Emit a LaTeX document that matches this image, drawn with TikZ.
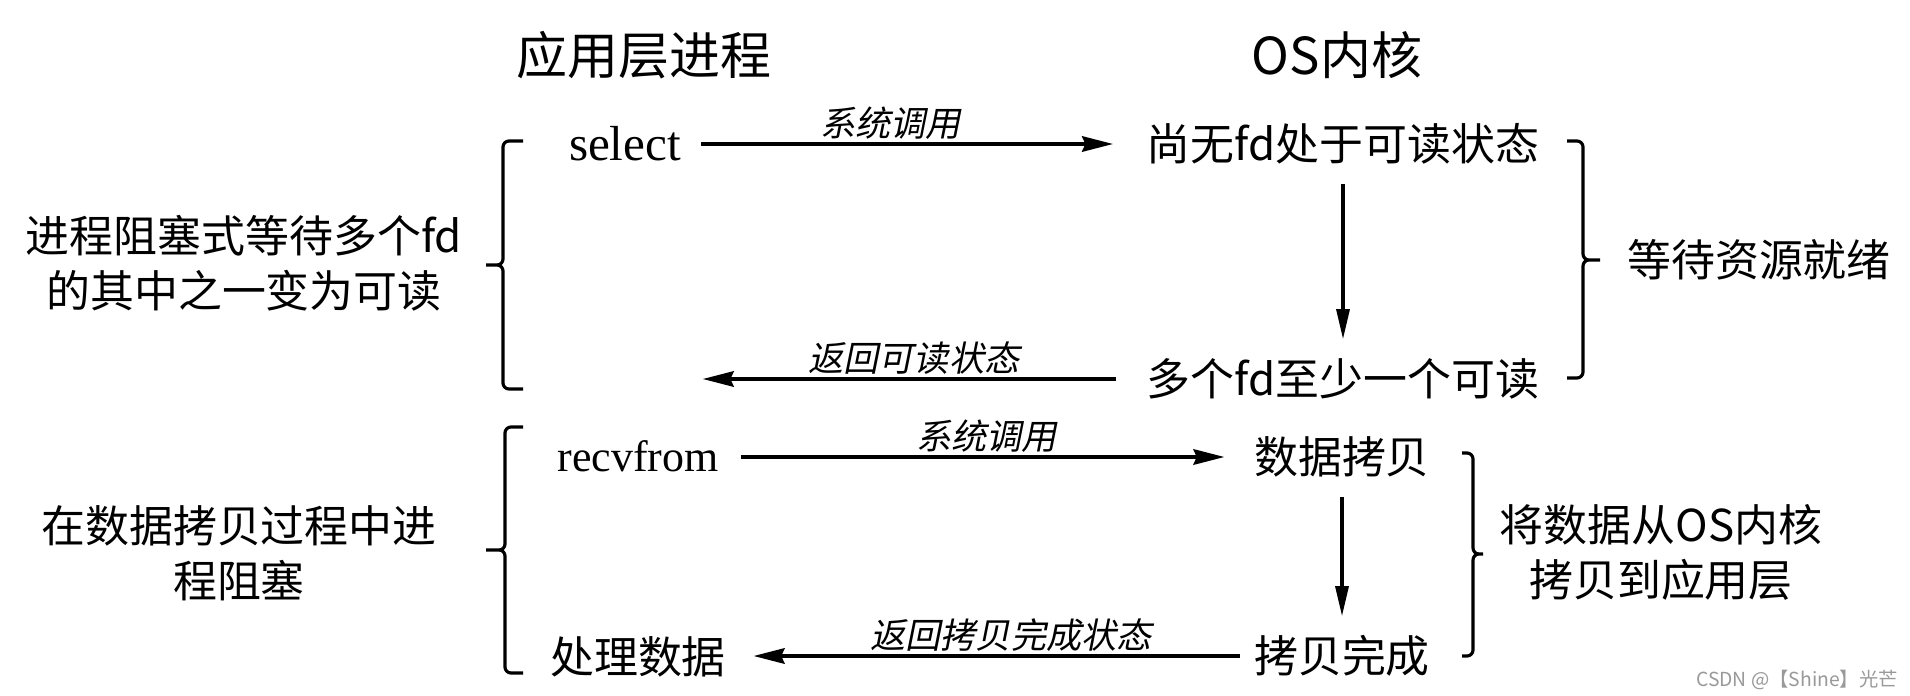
\documentclass[tikz,border=0pt]{standalone}
\usepackage{fontspec}
\setmainfont{Liberation Serif}
\newfontfamily\cjk{Noto Sans CJK SC}
\newfontfamily\cjkit{Noto Sans CJK SC}[FakeSlant=0.2]
\usetikzlibrary{arrows.meta}

\begin{document}
\begin{tikzpicture}[x=0.02cm, y=-0.02cm,
  head/.style={font=\cjk\fontsize{29}{34}\selectfont, inner sep=0pt},
  txt/.style={font=\cjk\fontsize{25}{30}\selectfont, inner sep=0pt, text height=22pt, text depth=3pt},
  side/.style={font=\cjk\fontsize{25}{31.3}\selectfont, inner sep=0pt, align=center},
  api/.style={font=\fontsize{28}{32}\selectfont, inner sep=0pt, text height=19pt, text depth=0pt},
  lbl/.style={font=\cjkit\fontsize{20}{24}\selectfont, inner sep=0pt, yshift=0.42cm},
  call/.style={line width=2.8pt, -{Stealth[length=0.62cm,width=0.3cm,inset=0.06cm]}},
  down/.style={line width=1.8pt, -{Triangle[length=0.6cm,width=0.26cm]}, shorten <=0.35cm, shorten >=0.35cm},
  brk/.style={line width=1.8pt, rounded corners=0.12cm},
  wmark/.style={font=\cjk\fontsize{11}{13}\selectfont, text=black!40, inner sep=0pt}]
  \path[use as bounding box, fill=white] (0,0) rectangle (1910,696);

  % column heads
  \node[head] (app) at (644,55) {应用层进程};
  \node[head] (os) at (1337,55) {OS内核};

  % select
  \node[api] (sel) at (625,144) {select};
  \node[txt] (nofd) at (1343,144) {尚无fd处于可读状态};
  \node[txt] (ready) at (1343,379) {多个fd至少一个可读};
  \node[side] (wait) at (244,263) {进程阻塞式等待多个fd\\的其中之一变为可读};
  \node[txt] (res) at (1759,260) {等待资源就绪};

  % recvfrom
  \node[api, font=\fontsize{25}{30}\selectfont, text height=17pt] (recv) at (638,457) {recvfrom};
  \node[txt] (copy) at (1342,457) {数据拷贝};
  \node[txt] (done) at (1342,656) {拷贝完成};
  \node[txt] (proc) at (638,657) {处理数据};
  \node[side] (block) at (239,553) {在数据拷贝过程中进\\程阻塞};
  \node[side] (tocopy) at (1661,552) {将数据从OS内核\\拷贝到应用层};

  \node[wmark] (csdn) at (1797,680) {CSDN @【Shine】光芒};

  \draw[call, shorten <=0.4cm, shorten >=0.66cm] (sel) -- node[lbl, pos=0.45] (c1) {系统调用} (nofd);
  \draw[down] (nofd) -- (ready);
  \draw[call, shorten <=0.6cm, shorten >=0.42cm] (ready.west) -- node[lbl] (c2) {返回可读状态} (ready.west -| sel.east);

  \draw[call, shorten <=0.44cm, shorten >=0.58cm] (recv) -- node[lbl] (c3) {系统调用} (copy);
  \draw[down] (copy) -- (done);
  \draw[call, shorten <=0.28cm, shorten >=0.54cm] (done.west) -- node[lbl, pos=0.46] (c4) {返回拷贝完成状态} (done.west -| proc.east);

  % braces
  \draw[brk] (523,141) -| (503,265) -- (486,265) (486,265) -- (503,265) |- (523,389);
  \draw[brk] (1567,141) -| (1583,260) -- (1600,260) (1600,260) -- (1583,260) |- (1567,378);
  \draw[brk] (523,427) -| (505,550) -- (486,550) (486,550) -- (505,550) |- (523,673);
  \draw[brk] (1462,453) -| (1473,554) -- (1483,554) (1483,554) -- (1473,554) |- (1462,656);
\end{tikzpicture}
\end{document}
